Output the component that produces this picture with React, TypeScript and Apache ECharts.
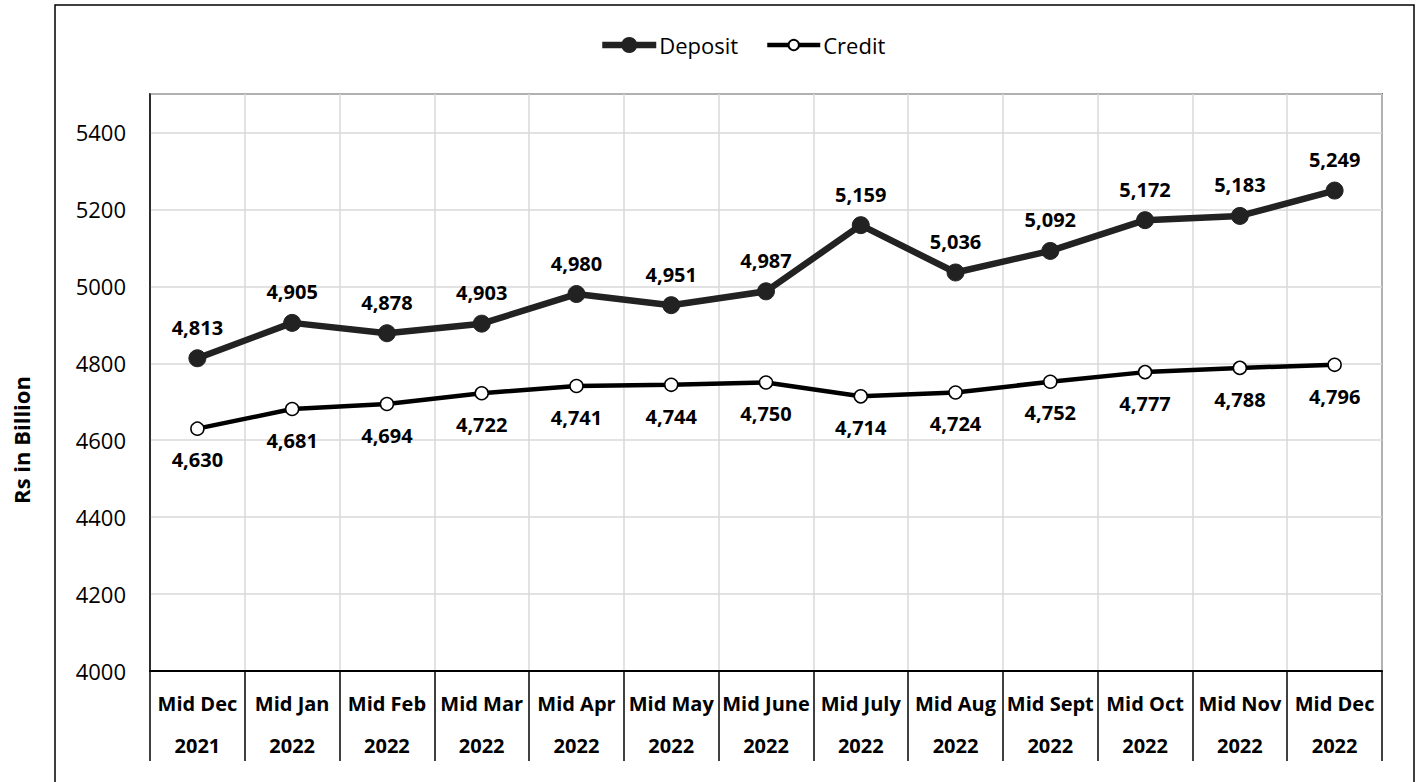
import React, { useEffect, useRef } from "react";
import * as echarts from "echarts";

const monthLabels = ["Mid Dec", "Mid Jan", "Mid Feb", "Mid Mar", "Mid Apr", "Mid May", "Mid June", "Mid July", "Mid Aug", "Mid Sept", "Mid Oct", "Mid Nov", "Mid Dec"];
const yearLabels = ["2021", "2022", "2022", "2022", "2022", "2022", "2022", "2022", "2022", "2022", "2022", "2022", "2022"];
const deposit = [4813, 4905, 4878, 4903, 4980, 4951, 4987, 5159, 5036, 5092, 5172, 5183, 5249];
const credit = [4630, 4681, 4694, 4722, 4741, 4744, 4750, 4714, 4724, 4752, 4777, 4788, 4796];

const FONT = "'Open Sans', 'Noto Sans', sans-serif";

export default function App() {
  const ref = useRef<HTMLDivElement>(null);
  useEffect(() => {
    document.body.style.margin = "0";
    const chart = echarts.init(ref.current!, null, { renderer: "svg" });
    const categories = monthLabels.map((m, i) => m + "\n" + yearLabels[i]);
    const fmt = (p: any) => Number(p.value).toLocaleString("en-US");
    chart.setOption({
      animation: false,
      backgroundColor: "#fff",
      textStyle: { fontFamily: FONT },
      graphic: [
        {
          type: "rect",
          shape: { x: 55, y: 5, width: 1359, height: 800 },
          style: { fill: "none", stroke: "#000", lineWidth: 1.5 },
          silent: true,
        },
        {
          type: "text",
          x: 21,
          y: 440,
          rotation: Math.PI / 2,
          style: {
            text: "Rs in Billion",
            fontFamily: FONT,
            fontSize: 22,
            fontWeight: "bold",
            fill: "#000",
            align: "center",
            verticalAlign: "middle",
          },
        },
      ],
      legend: [
        {
          top: 29,
          left: 594,
          itemWidth: 54,
          itemHeight: 20,
          textStyle: { fontFamily: FONT, fontSize: 22, color: "#000", padding: [0, 0, 0, -2] },
          data: [{ name: "Deposit", lineStyle: { width: 6.5, color: "#222" } }],
        },
        {
          top: 29,
          left: 760,
          itemWidth: 53,
          itemHeight: 13,
          textStyle: { fontFamily: FONT, fontSize: 22, color: "#000", padding: [0, 0, 0, -2] },
          data: [{ name: "Credit", lineStyle: { width: 4.5, color: "#000" } }],
        },
      ],
      grid: {
        left: 150,
        top: 94,
        right: 37,
        bottom: 111,
        show: true,
        borderColor: "#000",
        borderWidth: 1.5,
        containLabel: false,
      },
      xAxis: {
        type: "category",
        data: categories,
        boundaryGap: true,
        axisLine: { show: true, lineStyle: { color: "#000", width: 2 } },
        axisTick: { show: true, length: 90, lineStyle: { color: "#000", width: 1.5 } },
        splitLine: { show: true, lineStyle: { color: "#d9d9d9", width: 1.5 } },
        axisLabel: {
          interval: 0,
          margin: 11,
          lineHeight: 42,
          fontSize: 20,
          fontWeight: "bold",
          color: "#000",
          fontFamily: FONT,
        },
      },
      yAxis: {
        type: "value",
        min: 4000,
        max: 5500,
        interval: 200,
        axisLine: { show: true, lineStyle: { color: "#000", width: 1.5 } },
        axisTick: { show: false },
        splitLine: { show: true, lineStyle: { color: "#d9d9d9", width: 1.5 } },
        axisLabel: {
          showMaxLabel: false,
          margin: 24,
          fontSize: 22,
          color: "#000",
          fontFamily: FONT,
          formatter: (v: number) => (v === 5500 ? "" : String(v)),
        },
      },
      series: [
        {
          name: "Deposit",
          type: "line",
          data: deposit,
          symbol: "circle",
          symbolSize: 17,
          itemStyle: { color: "#222", borderColor: "#222" },
          lineStyle: { color: "#222", width: 6.5 },
          label: {
            show: true,
            position: "top",
            distance: 12,
            fontSize: 20,
            fontWeight: "bold",
            color: "#000",
            fontFamily: FONT,
            formatter: fmt,
          },
          z: 3,
        },
        {
          name: "Credit",
          type: "line",
          data: credit,
          symbol: "circle",
          symbolSize: 13,
          itemStyle: { color: "#fff", borderColor: "#000", borderWidth: 1.5 },
          lineStyle: { color: "#000", width: 4.5 },
          label: {
            show: true,
            position: "bottom",
            distance: 14,
            fontSize: 20,
            fontWeight: "bold",
            color: "#000",
            fontFamily: FONT,
            formatter: fmt,
          },
          z: 2,
        },
      ],
    });
    return () => chart.dispose();
  }, []);
  return <div ref={ref} style={{ width: 1419, height: 782 }} />;
}
